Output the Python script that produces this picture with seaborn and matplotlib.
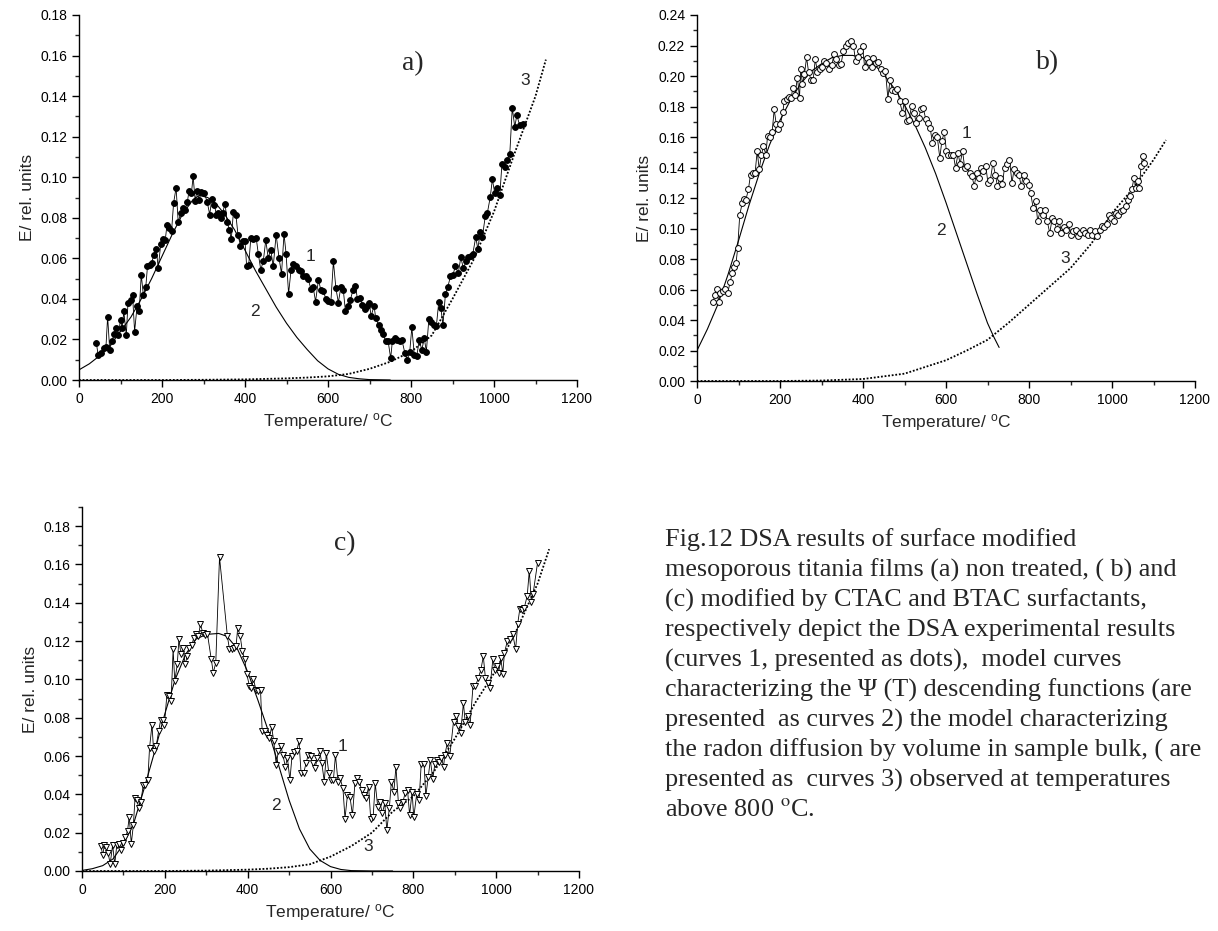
import matplotlib
matplotlib.use("Agg")
import matplotlib.pyplot as plt
import seaborn as sns
from matplotlib.ticker import MultipleLocator, FormatStrFormatter

# ---------------- data: panel a ----------------
Ta = [42,46,54,60,65,69,74,79,85,90,
      95,100,104,108,114,118,125,129,134,140,
      145,150,155,161,165,171,175,180,186,191,
      197,202,208,212,217,223,228,234,239,245,
      250,256,261,265,271,275,280,284,289,295,
      302,309,315,320,326,331,335,341,346,352,
      357,362,367,372,378,383,389,394,400,404,
      409,414,420,427,432,438,444,450,456,462,
      468,475,482,488,494,499,505,511,516,523,
      529,535,540,547,552,559,564,570,577,583,
      589,595,601,607,613,619,625,631,637,642,
      647,654,660,666,671,677,683,688,693,699,
      704,711,715,722,727,733,739,745,751,755,
      762,767,773,778,785,791,797,802,808,814,
      820,826,832,837,843,849,856,861,867,872,
      877,883,889,895,901,907,914,920,926,933,
      938,944,949,956,961,967,972,979,984,991,
      996,1002,1007,1014,1019,1026,1031,1038,1044,1050,
      1055,1062,1069]
Ea = [0.0181,0.0124,0.0135,0.0157,0.0165,0.0313,0.0148,0.019,0.0227,0.0255,
      0.0222,0.0297,0.0255,0.0338,0.0222,0.0379,0.0396,0.042,0.0239,0.0366,
      0.0338,0.052,0.042,0.046,0.056,0.0569,0.0577,0.0615,0.0646,0.0552,
      0.0672,0.0695,0.0692,0.0766,0.075,0.0733,0.0874,0.0948,0.0778,0.0824,
      0.0849,0.084,0.0877,0.0931,0.0923,0.1005,0.0882,0.0931,0.089,0.0926,
      0.0923,0.0877,0.0816,0.0893,0.0865,0.0816,0.0824,0.08,0.0824,0.087,
      0.0778,0.0742,0.0695,0.0827,0.0816,0.0717,0.0663,0.0684,0.0684,0.056,
      0.0569,0.07,0.0695,0.07,0.0623,0.0544,0.0585,0.0689,0.0602,0.0643,
      0.056,0.0717,0.0602,0.0524,0.072,0.0623,0.0425,0.0544,0.0572,0.0564,
      0.0544,0.0536,0.0511,0.0511,0.0498,0.0448,0.0461,0.0387,0.0494,0.0442,
      0.0437,0.0399,0.0392,0.0387,0.0585,0.0453,0.0382,0.0458,0.0442,0.0338,
      0.0366,0.0396,0.0442,0.0465,0.0399,0.0404,0.0371,0.035,0.0366,0.0382,
      0.0316,0.0366,0.0305,0.0272,0.0247,0.0227,0.019,0.019,0.0107,0.019,
      0.0206,0.0198,0.019,0.0198,0.0135,0.0099,0.014,0.0259,0.0124,0.0119,
      0.0198,0.0148,0.0206,0.014,0.03,0.0284,0.0272,0.0264,0.0387,0.0354,
      0.0272,0.0425,0.0461,0.0511,0.0519,0.056,0.0527,0.0605,0.0552,0.0585,
      0.0605,0.0613,0.0623,0.0705,0.0646,0.073,0.0705,0.0808,0.0824,0.0902,
      0.0989,0.092,0.0948,0.091,0.1063,0.105,0.1085,0.1113,0.1343,0.1248,
      0.1305,0.1256,0.1261]
T2a = [0,25,50,75,100,125,150,175,200,225,250,275,290,310,330,350,375,400,
       425,450,475,500,525,550,575,600,625,650,675,700,750]
E2a = [0.005,0.008,0.012,0.017,0.024,0.031,0.040,0.050,0.061,0.072,0.082,0.089,
       0.091,0.090,0.087,0.082,0.074,0.064,0.054,0.045,0.036,0.028,0.021,0.015,
       0.0095,0.0055,0.0028,0.0013,0.0006,0.0002,0.0]
T3a = [0,200,300,400,500,550,600,650,700,750,800,850,900,950,1000,1050,1100,1125]
E3a = [0.0,0.0,0.0001,0.0003,0.0008,0.0012,0.0018,0.003,0.0055,0.009,0.014,0.022,
       0.040,0.059,0.083,0.112,0.140,0.158]

# ---------------- data: panel b ----------------
Tb = [39,43,48,52,56,62,68,74,80,85,
      90,94,98,103,109,114,118,124,129,134,
      140,145,150,155,160,166,170,176,181,186,
      191,196,201,207,210,216,222,227,231,236,
      242,247,250,254,259,264,269,275,280,285,
      290,296,301,307,312,319,325,330,336,342,
      347,353,360,365,371,377,382,387,393,399,
      404,409,415,421,425,431,437,443,448,454,
      460,465,471,477,483,488,495,500,505,511,
      517,523,528,534,540,545,551,557,562,567,
      573,579,585,590,596,601,606,612,618,623,
      629,634,640,645,650,657,662,668,674,679,
      684,690,696,701,707,713,719,724,730,736,
      741,747,753,759,764,770,776,781,787,793,
      799,804,810,816,821,827,833,838,844,
      850,856,861,867,873,878,884,890,896,901,
      907,913,918,924,930,936,941,947,953,958,
      964,970,976,981,987,993,998,1004,1010,1015,
      1021,1027,1033,1038,1044,1048,1053,1057,1062,1066,
      1070,1074,1077]
Eb = [0.052,0.0564,0.0601,0.052,0.0575,0.0592,0.0601,0.0575,0.0652,0.0706,
      0.075,0.0772,0.0871,0.109,0.1167,0.1193,0.1189,0.1259,0.1354,0.1365,
      0.1365,0.1507,0.1387,0.1479,0.154,0.1485,0.1606,0.1602,0.1632,0.1781,
      0.1683,0.1654,0.1683,0.1764,0.1836,0.1847,0.1865,0.1858,0.1924,0.1874,
      0.199,0.1858,0.2045,0.195,0.2012,0.2122,0.2023,0.1975,0.1975,0.2111,
      0.2027,0.2049,0.2056,0.21,0.2082,0.2049,0.2071,0.2143,0.2111,0.2071,
      0.2078,0.2165,0.2198,0.2214,0.2227,0.2198,0.21,0.2122,0.2165,0.2198,
      0.2056,0.2115,0.2089,0.2056,0.2115,0.2084,0.2089,0.2045,0.2018,0.2034,
      0.1852,0.1975,0.1909,0.1902,0.1917,0.1836,0.176,0.1836,0.1705,0.1711,
      0.1803,0.176,0.1694,0.1727,0.1781,0.1792,0.172,0.1694,0.166,0.1562,
      0.161,0.1602,0.1463,0.1573,0.1632,0.1507,0.1479,0.1479,0.1479,0.1398,
      0.1492,0.1426,0.1507,0.1398,0.1413,0.1365,0.1347,0.1281,0.1365,0.1332,
      0.1398,0.1376,0.1409,0.1299,0.1321,0.143,0.1354,0.1277,0.1332,0.1294,
      0.1398,0.1426,0.1452,0.1299,0.1387,0.1365,0.1354,0.1277,0.1354,0.131,
      0.1288,0.1233,0.1134,0.1178,0.1047,0.1119,0.109,0.1119,0.1047,
      0.097,0.1068,0.1047,0.0996,0.1047,0.097,0.1007,0.0992,0.1031,0.0959,
      0.0981,0.0992,0.0948,0.097,0.0987,0.097,0.0959,0.0992,0.0959,0.0981,
      0.0948,0.0992,0.1014,0.1009,0.1031,0.109,0.1068,0.1047,0.1101,0.109,
      0.1112,0.1123,0.1145,0.1189,0.1211,0.1259,0.1332,0.1266,0.131,0.1266,
      0.1409,0.1474,0.143]
T2b = [0,25,50,75,100,125,150,175,200,225,250,275,300,325,350,375,400,425,450,
       475,500,525,550,575,600,625,650,675,700,715,728]
E2b = [0.020,0.034,0.050,0.070,0.092,0.115,0.136,0.155,0.171,0.184,0.195,0.203,
       0.208,0.212,0.2135,0.2135,0.212,0.208,0.201,0.192,0.181,0.168,0.153,0.136,
       0.117,0.097,0.077,0.057,0.038,0.029,0.022]
T3b = [0,200,300,400,500,600,650,700,750,800,850,900,950,1000,1050,1100,1130]
E3b = [0.0,0.0,0.0003,0.0013,0.0048,0.0136,0.020,0.027,0.038,0.050,0.062,0.074,
       0.090,0.110,0.126,0.145,0.158]

# ---------------- data: panel c ----------------
Tc = [46,50,54,58,63,68,74,79,84,89,
      95,100,105,110,114,119,124,128,133,137,
      142,148,153,159,163,169,173,179,185,190,
      195,199,205,209,215,220,224,230,234,239,
      244,249,254,259,265,270,276,281,286,292,
      297,303,312,317,323,332,351,356,362,366,
      372,376,382,387,393,398,404,409,414,420,
      425,431,435,441,446,452,458,463,469,474,
      480,485,491,496,502,507,513,518,524,529,
      535,541,546,552,557,563,568,574,579,585,
      590,596,601,607,612,618,623,630,635,641,
      647,653,659,664,670,675,681,686,692,697,
      703,708,714,719,725,731,736,742,747,753,
      758,764,769,775,780,786,791,797,801,808,
      814,819,826,830,836,841,847,852,858,863,
      868,873,876,882,888,897,904,909,914,921,
      925,932,937,944,950,957,963,969,974,980,
      985,992,997,1002,1006,1011,1016,1020,1027,1033,
      1040,1047,1052,1057,1063,1068,1075,1080,1085,1089,
      1100]
Ec = [0.0129,0.0082,0.0135,0.0126,0.0094,0.0038,0.0135,0.0035,0.0135,0.0143,
      0.0112,0.0147,0.0175,0.021,0.0283,0.0143,0.0239,0.0379,0.037,0.0327,
      0.0362,0.0449,0.0449,0.0475,0.0641,0.0764,0.0624,0.065,0.0729,0.079,
      0.079,0.0764,0.0921,0.0912,0.0886,0.1157,0.0991,0.1078,0.1209,0.1131,
      0.1166,0.1078,0.1122,0.1166,0.1178,0.1218,0.1236,0.1227,0.1288,0.1241,
      0.123,0.1236,0.1105,0.1035,0.1087,0.1638,0.1227,0.1157,0.1157,0.1166,
      0.1174,0.127,0.1227,0.1148,0.1105,0.1026,0.0968,0.0956,0.1,0.0947,
      0.0938,0.0947,0.0729,0.0729,0.0711,0.0694,0.0751,0.0676,0.0554,0.0624,
      0.0654,0.0606,0.0545,0.0589,0.0475,0.0598,0.0619,0.0624,0.0676,0.051,
      0.051,0.0563,0.0606,0.0598,0.0563,0.0537,0.0589,0.0624,0.0563,0.0467,
      0.0615,0.051,0.0475,0.0475,0.0606,0.0467,0.0484,0.0432,0.0274,0.0397,
      0.0388,0.0292,0.0458,0.0484,0.0467,0.0423,0.0397,0.0379,0.044,0.0274,
      0.0283,0.0458,0.0336,0.0362,0.0301,0.0353,0.0213,0.0327,0.0467,0.0414,
      0.0545,0.0353,0.0327,0.0362,0.0405,0.0423,0.0292,0.0414,0.028,0.04,
      0.037,0.056,0.056,0.039,0.049,0.058,0.048,0.056,0.058,0.057,
      0.059,0.0545,0.0606,0.0668,0.06,0.078,0.081,0.0755,0.072,0.0877,
      0.078,0.081,0.076,0.0965,0.0965,0.1008,0.105,0.112,0.1008,0.098,
      0.0956,0.1105,0.105,0.107,0.1035,0.1113,0.103,0.114,0.12,0.121,
      0.1236,0.1157,0.129,0.1367,0.136,0.1375,0.1437,0.1568,0.1402,0.1445,
      0.161]
T2c = [0,25,50,75,100,125,150,175,200,225,250,275,300,330,350,375,400,425,450,
       475,500,525,550,575,600,625,650,700,750]
E2c = [0.0003,0.0012,0.0028,0.0063,0.014,0.025,0.043,0.062,0.082,0.100,0.113,
       0.121,0.1235,0.124,0.1225,0.116,0.104,0.089,0.073,0.055,0.037,0.022,0.0115,
       0.0055,0.0023,0.0008,0.0002,0.0,0.0]
T3c = [0,200,300,400,450,500,550,600,650,700,750,800,850,900,950,1000,1050,1100,1128]
E3c = [0.0,0.0,0.0002,0.0007,0.0012,0.002,0.0035,0.0075,0.013,0.020,0.031,0.039,
       0.052,0.069,0.088,0.105,0.126,0.150,0.168]

caption_lines = [
    "Fig.12 DSA results of surface modified",
    "mesoporous titania films (a) non treated, ( b) and",
    "(c) modified by CTAC and BTAC surfactants,",
    "respectively depict the DSA experimental results",
    "(curves 1, presented as dots),  model curves",
    "characterizing the \u03a8 (T) descending functions (are",
    "presented  as curves 2) the model characterizing",
    "the radon diffusion by volume in sample bulk, ( are",
    "presented as  curves 3) observed at temperatures",
    r"above 800 $^{\mathrm{o}}$C.",
]

# ---------------- style ----------------
sns.set_style("ticks")
plt.rcParams['font.family'] = ['Liberation Sans', 'DejaVu Sans']
plt.rcParams['mathtext.fontset'] = 'custom'
plt.rcParams['mathtext.rm'] = 'Liberation Sans'
plt.rcParams['mathtext.it'] = 'Liberation Sans:italic'

fig = plt.figure(figsize=(12.18, 9.31), dpi=100)
W, H = 1218.0, 931.0

def make_axes(l, r, t, b):
    return fig.add_axes([l / W, 1 - b / H, (r - l) / W, (b - t) / H])

ax_a = make_axes(79, 577, 15, 380)
ax_b = make_axes(697, 1195, 15, 381)
ax_c = make_axes(82, 579, 507, 871)

panels = [
    (ax_a, Ta, Ea, T2a, E2a, T3a, E3a, 0.18, 'o', 'black', 4.2,
     'a)', (805, 0.156), [('1', 558, 0.061), ('2', 425, 0.034), ('3', 1075, 0.1475)]),
    (ax_b, Tb, Eb, T2b, E2b, T3b, E3b, 0.24, 'o', 'white', 4.2,
     'b)', (845, 0.209), [('1', 650, 0.162), ('2', 588, 0.099), ('3', 888, 0.0805)]),
    (ax_c, Tc, Ec, T2c, E2c, T3c, E3c, 0.19, 'v', 'white', 4.8,
     'c)', (635, 0.1707), [('1', 630, 0.065), ('2', 468, 0.0344), ('3', 692, 0.0126)]),
]

for (ax, T, E, T2, E2, T3, E3, ymax, mk, mfc, ms, tag, tagpos, nums) in panels:
    sns.lineplot(x=T, y=E, ax=ax, color='black', lw=0.6, marker=mk, markersize=ms,
                 markerfacecolor=mfc, markeredgecolor='black', markeredgewidth=0.7,
                 estimator=None, sort=False, zorder=3)
    sns.lineplot(x=T2, y=E2, ax=ax, color='black', lw=0.8, estimator=None,
                 sort=False, zorder=2)
    sns.lineplot(x=T3, y=E3, ax=ax, color='black', lw=1.3, linestyle=(0, (1, 1)),
                 estimator=None, sort=False, zorder=2)
    ax.set_xlim(0, 1200)
    ax.set_ylim(0, ymax)
    ax.xaxis.set_major_locator(MultipleLocator(200))
    ax.xaxis.set_minor_locator(MultipleLocator(100))
    ax.yaxis.set_major_locator(MultipleLocator(0.02))
    ax.yaxis.set_minor_locator(MultipleLocator(0.01))
    ax.yaxis.set_major_formatter(FormatStrFormatter('%.2f'))
    ax.tick_params(which='major', direction='out', length=5, width=1, labelsize=10,
                   colors='black')
    ax.tick_params(which='minor', direction='out', length=3, width=1)
    for s in ['top', 'right']:
        ax.spines[s].set_visible(False)
    for s in ['left', 'bottom']:
        ax.spines[s].set_linewidth(1)
        ax.spines[s].set_color('black')
    ax.set_xlabel(r'Temperature/ $^{\mathrm{o}}$C', fontsize=12.5, labelpad=4)
    ax.set_ylabel('E/ rel. units', fontsize=12.5, labelpad=4)
    ax.text(tagpos[0], tagpos[1], tag, fontsize=20, family='Liberation Serif',
            ha='center', va='center')
    for (s, x, y) in nums:
        ax.text(x, y, s, fontsize=12.5, ha='center', va='center')
    ax.set_facecolor('white')

y0 = 540.0
step = 30.0
for i, line in enumerate(caption_lines):
    fig.text(665 / W, 1 - (y0 + i * step) / H, line, fontsize=18.8,
             family='Liberation Serif', ha='left', va='center',
             math_fontfamily='stix')

fig.savefig('out.png', dpi=100, facecolor='white')
